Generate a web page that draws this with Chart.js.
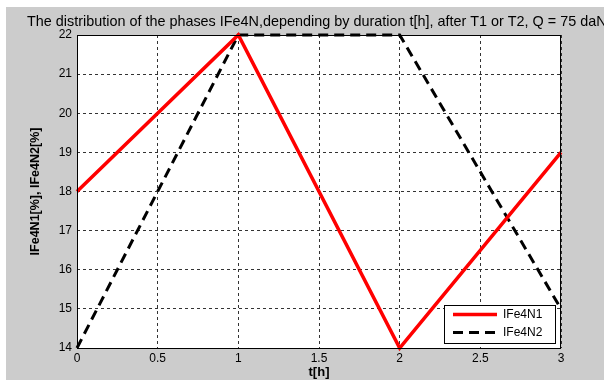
<!DOCTYPE html>
<html><head><meta charset="utf-8">
<script src="https://cdn.jsdelivr.net/npm/chart.js@4/dist/chart.umd.min.js"></script>
<style>html,body{margin:0;padding:0;background:#fff}#wrap{width:604px;height:380px}</style>
</head><body><div id="wrap"><canvas id="c" width="604" height="380"></canvas></div>
<script>
const timeH = [0, 1, 2, 3];
const ife4n1 = [18, 22, 14, 19];
const ife4n2 = [14, 22, 22, 15];
const xTicks = [0, 0.5, 1, 1.5, 2, 2.5, 3];
const yTicks = [14, 15, 16, 17, 18, 19, 20, 21, 22];
const titleText = 'The distribution of the phases IFe4N,depending by duration t[h], after T1 or T2, Q = 75 daN';
const FONT = '"Liberation Sans", Arial, sans-serif';

const bgPlugin = {
  id: 'bg',
  beforeDraw(chart) {
    const {ctx, chartArea: a} = chart;
    ctx.save();
    ctx.fillStyle = '#fff';
    ctx.fillRect(0, 0, chart.width, chart.height);
    ctx.fillStyle = '#cccccc';
    ctx.fillRect(6, 7, chart.width - 6, chart.height - 7);
    ctx.fillStyle = '#fff';
    ctx.fillRect(a.left, a.top, a.right - a.left, a.bottom - a.top);
    ctx.restore();
  },
  afterDatasetsDraw(chart) {
    const {ctx, chartArea: a} = chart;
    ctx.save();
    ctx.strokeStyle = '#000';
    ctx.lineWidth = 1;
    ctx.setLineDash([]);
    ctx.strokeRect(a.left + 0.5, a.top + 0.5, a.right - a.left - 1, a.bottom - a.top);
    // title
    ctx.fillStyle = '#000';
    ctx.font = '14.4px ' + FONT;
    ctx.textAlign = 'left';
    ctx.textBaseline = 'alphabetic';
    ctx.fillText(titleText, 27, 26);
    // legend
    const lx = 444, ly = 305, lw = 111, lh = 38;
    ctx.fillStyle = '#fff';
    ctx.fillRect(lx, ly, lw, lh);
    ctx.strokeRect(lx + 0.5, ly + 0.5, lw, lh);
    ctx.textBaseline = 'middle';
    chart.data.datasets.forEach((ds, i) => {
      const y = ly + 9.5 + i * 18;
      ctx.strokeStyle = ds.borderColor;
      ctx.lineWidth = ds.borderWidth;
      ctx.setLineDash(ds.borderDash || []);
      ctx.beginPath();
      ctx.moveTo(lx + 9, y);
      ctx.lineTo(lx + 53, y);
      ctx.stroke();
      ctx.setLineDash([]);
      ctx.fillStyle = '#000';
      ctx.font = '12px ' + FONT;
      ctx.textAlign = 'left';
      ctx.fillText(ds.label, lx + 59, y + 0.5);
    });
    ctx.restore();
  }
};

new Chart(document.getElementById('c'), {
  type: 'line',
  data: {
    datasets: [
      {label: 'IFe4N1', data: timeH.map((t, i) => ({x: t, y: ife4n1[i]})), borderColor: '#ff0000', borderWidth: 3.5, pointRadius: 0, tension: 0, fill: false, clip: false},
      {label: 'IFe4N2', data: timeH.map((t, i) => ({x: t, y: ife4n2[i]})), borderColor: '#000000', borderWidth: 3, borderDash: [10, 6], pointRadius: 0, tension: 0, fill: false, clip: false}
    ]
  },
  options: {
    responsive: false,
    animation: false,
    layout: {padding: {top: 35, right: 43, left: 0, bottom: 0}},
    plugins: {legend: {display: false}, title: {display: false}, tooltip: {enabled: false}},
    scales: {
      x: {
        type: 'linear', min: 0, max: 3,
        afterBuildTicks(s) { s.ticks = xTicks.map(v => ({value: v})); },
        afterFit(s) { s.height = 32; },
        grid: {color: '#333', lineWidth: 1, drawTicks: false},
        border: {display: false, dash: [3, 3]},
        ticks: {padding: 3, color: '#000', font: {family: FONT, size: 12}, maxRotation: 0, autoSkip: false, callback: v => String(v)},
        title: {display: true, text: 't[h]', color: '#000', font: {family: FONT, size: 13, weight: 'bold'}, padding: {top: 0, bottom: 0}}
      },
      y: {
        min: 14, max: 22,
        afterBuildTicks(s) { s.ticks = yTicks.map(v => ({value: v})); },
        afterFit(s) { s.width = 77; },
        grid: {color: '#333', lineWidth: 1, drawTicks: false},
        border: {display: false, dash: [3, 3]},
        ticks: {padding: 5, color: '#000', font: {family: FONT, size: 12}, autoSkip: false, callback: v => String(v)},
        title: {display: true, text: 'IFe4N1[%], IFe4N2[%]', color: '#000', font: {family: FONT, size: 12.5, weight: 'bold'}, padding: {top: 28, bottom: 0}}
      }
    }
  },
  plugins: [bgPlugin]
});
</script>
</body></html>
